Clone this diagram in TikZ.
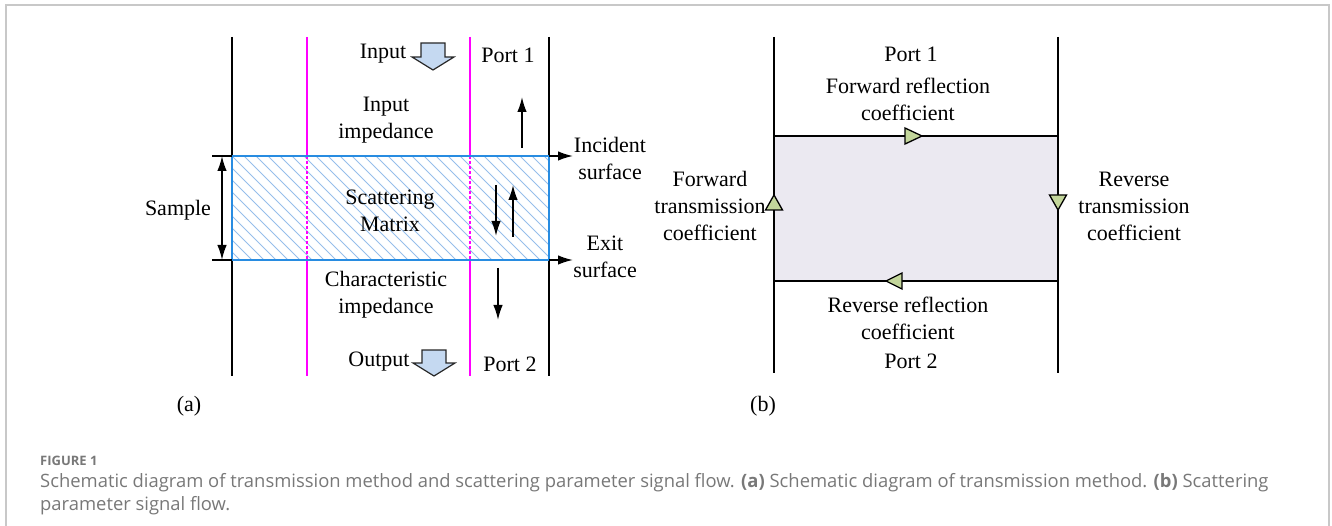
\documentclass[tikz,border=0pt]{standalone}
\usepackage{fontspec}
\setmainfont{Liberation Serif}
\newfontfamily\capfont{Open Sans}
\usetikzlibrary{arrows.meta}
\definecolor{magline}{RGB}{255,0,255}
\definecolor{sampleblue}{RGB}{40,140,225}
\definecolor{hatchblue}{RGB}{150,190,235}
\definecolor{blockfill}{RGB}{197,217,241}
\definecolor{blockedge}{RGB}{40,40,40}
\definecolor{lavender}{RGB}{235,233,241}
\definecolor{trigreen}{RGB}{195,214,155}
\definecolor{capgray}{RGB}{120,120,120}
\definecolor{framegray}{RGB}{200,200,200}
\tikzset{
  lbl/.style={font=\fontsize{22}{27}\selectfont, align=center, inner sep=0pt},
  blk/.style={line width=1.8pt, black},
  mag/.style={line width=1.5pt, magline},
  arr/.style={line width=1.6pt, -{Latex[length=15pt,width=9.5pt]}},
  darr/.style={line width=1.6pt, {Latex[length=15pt,width=9.5pt]}-{Latex[length=15pt,width=9.5pt]}},
  blockarrow/.style={fill=blockfill, draw=blockedge, line width=1.2pt, line join=miter},
  tri/.style={fill=trigreen, draw=black, line width=1.3pt, line join=miter},
  captxt/.style={font=\capfont\fontsize{18.4}{22}\selectfont, text=capgray, inner sep=0pt, anchor=west},
}
\begin{document}
\begin{tikzpicture}[x=1pt,y=-1pt]
\useasboundingbox (0,0) rectangle (1332,526);
% frame
\draw[framegray, line width=1.2pt] (6,526) -- (6,5) -- (1329,5) -- (1329,526);

% ---------- panel (a) ----------
% hatched sample
\begin{scope}
  \clip (232,156) rectangle (549,260);
  \foreach \x in {100,112,...,560} {
    \draw[hatchblue, line width=1pt] (\x,156) -- (\x+104,260);
  }
\end{scope}
% verticals
\draw[blk] (232,37) -- (232,376);
\draw[blk] (549,37) -- (549,376);
\draw[mag] (307,37) -- (307,156);
\draw[mag] (307,260) -- (307,376);
\draw[mag, dashed, dash pattern=on 3pt off 2pt] (307,156) -- (307,260);
\draw[mag] (470,37) -- (470,156);
\draw[mag] (470,260) -- (470,376);
\draw[mag, dashed, dash pattern=on 3pt off 2pt] (470,156) -- (470,260);
% sample border
\draw[sampleblue, line width=1.6pt] (232,156) rectangle (549,260);
% ticks
\draw[blk, line width=1.5pt] (212,156) -- (232,156);
\draw[blk, line width=1.5pt] (212,260) -- (232,260);
\coordinate (sTop) at (222,156);
\coordinate (sBot) at (222,260);
\draw[darr] (sTop) -- (sBot);
% surface arrows
\coordinate (incA) at (549,156); \coordinate (incB) at (573,156);
\coordinate (exA) at (549,260); \coordinate (exB) at (573,260);
\draw[arr] (incA) -- (incB);
\draw[arr] (exA) -- (exB);
% small arrows
\coordinate (u1a) at (522,148); \coordinate (u1b) at (522,97);
\draw[arr] (u1a) -- (u1b);
\coordinate (d2a) at (496,185); \coordinate (d2b) at (496,236);
\draw[arr] (d2a) -- (d2b);
\coordinate (u2a) at (513,237); \coordinate (u2b) at (513,185);
\draw[arr] (u2a) -- (u2b);
\coordinate (d3a) at (498,268); \coordinate (d3b) at (498,320);
\draw[arr] (d3a) -- (d3b);
% block arrows
\draw[blockarrow] (421,43) -- (445,43) -- (445,57) -- (454,57) -- (433,70) -- (412,57) -- (421,57) -- cycle;
\draw[blockarrow] (422,350) -- (446,350) -- (446,363) -- (455,363) -- (434,376) -- (413,363) -- (422,363) -- cycle;
% labels (a)
\node[lbl] (input) at (383,54) {Input};
\node[lbl] (port1a) at (508,55) {Port 1};
\node[lbl] (inimp) at (386,120) {Input\\impedance};
\node[lbl] (incs) at (610,158) {Incident\\surface};
\node[lbl] (sample) at (178,210) {Sample};
\node[lbl] (scat) at (390,211) {Scattering\\Matrix};
\node[lbl] (exits) at (605,257) {Exit\\surface};
\node[lbl] (charimp) at (386,295) {Characteristic\\impedance};
\node[lbl] (output) at (379,362) {Output};
\node[lbl] (port2a) at (510,364) {Port 2};
\node[lbl] (labA) at (189,406) {(a)};

% ---------- panel (b) ----------
\fill[lavender] (774,136) rectangle (1058,281);
\draw[blk] (774,37) -- (774,373);
\draw[blk] (1058,37) -- (1058,373);
\coordinate (tl) at (774,136); \coordinate (tr) at (1058,136);
\coordinate (bl) at (774,281); \coordinate (br) at (1058,281);
\draw[blk] (tl) -- (tr);
\draw[blk] (bl) -- (br);
% triangles
\draw[tri] (922,136) -- (905,128) -- (905,144) -- cycle;
\draw[tri] (886,281) -- (902,273) -- (902,289) -- cycle;
\draw[tri] (774,195) -- (765.5,210) -- (782.5,210) -- cycle;
\draw[tri] (1058,210) -- (1049.5,195) -- (1066.5,195) -- cycle;
% labels (b)
\node[lbl] (port1b) at (911,54) {Port 1};
\node[lbl] (frc) at (908,99) {Forward reflection\\coefficient};
\node[lbl] (ftc) at (710,206) {Forward\\transmission\\coefficient};
\node[lbl] (rtc) at (1134,206) {Reverse\\transmission\\coefficient};
\node[lbl] (rrc) at (908,318) {Reverse reflection\\coefficient};
\node[lbl] (port2b) at (911,361) {Port 2};
\node[lbl] (labB) at (763,406) {(b)};

% ---------- caption ----------
\node[captxt, font=\capfont\bfseries\fontsize{13}{15}\selectfont] (fig) at (40,461) {FIGURE 1};
\node[captxt] (cap1) at (40,483) {Schematic diagram of transmission method and scattering parameter signal flow. \textbf{(a)} Schematic diagram of transmission method. \textbf{(b)} Scattering};
\node[captxt] (cap2) at (40,506) {parameter signal flow.};
\end{tikzpicture}
\end{document}
